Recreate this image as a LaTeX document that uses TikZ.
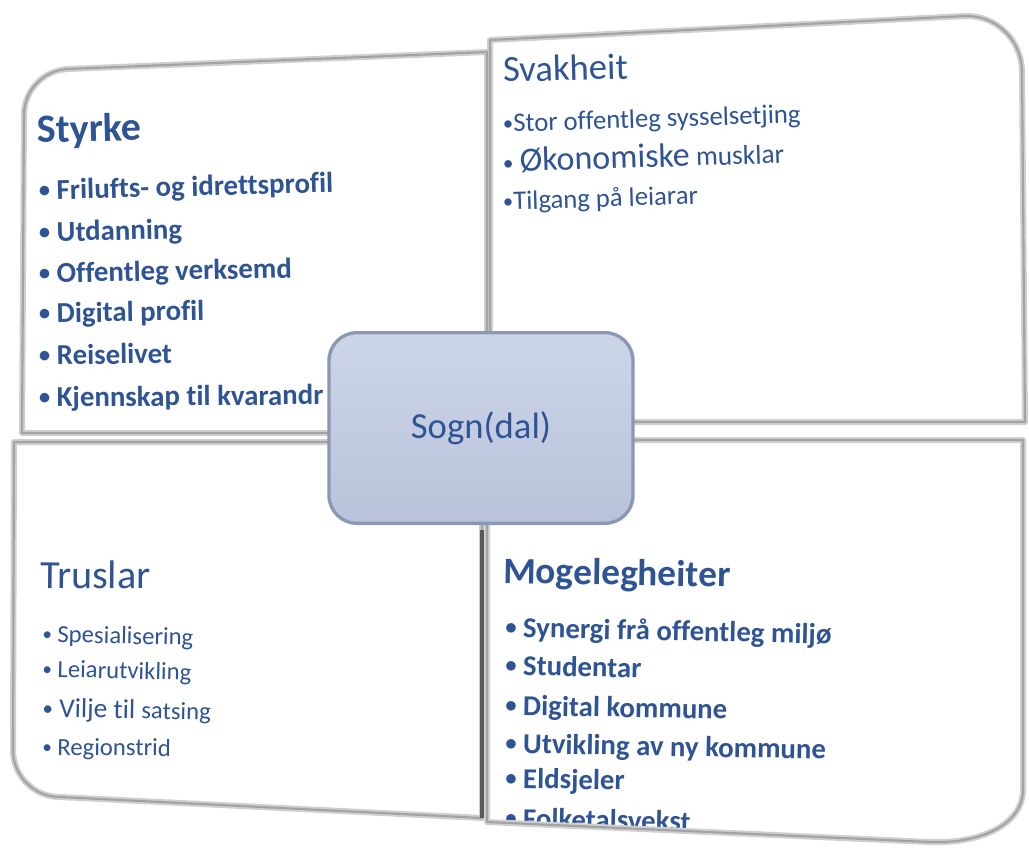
\documentclass[tikz,border=0pt]{standalone}
\usepackage{fontspec}
\setmainfont{Carlito}[Ligatures={NoCommon}]
\usetikzlibrary{shapes,backgrounds}
\definecolor{swotblue}{RGB}{46,84,150}
\definecolor{boxtop}{RGB}{205,213,232}
\definecolor{boxbot}{RGB}{184,194,218}
\definecolor{boxedge}{RGB}{138,152,180}
\newcommand\blt{\raisebox{0.07em}{\scalebox{0.78}{•}}}

% outlines of the four fields
\def\qstyrke{(487,52) -- (68,69) .. controls (44,70) and (24,90) .. (24,115) -- (22,433) -- (487,433) -- cycle}
\def\qsvak{(490,40) -- (965,16) .. controls (996,15) and (1022,40) .. (1022,72) -- (1025,422) -- (490,422) -- cycle}
\def\qtrus{(14,442) -- (482,442) -- (482,818) -- (60,797) .. controls (34,797) and (13,776) .. (13,750) -- cycle}
\def\qmog{(487,440) -- (1023,440) -- (1023,790) .. controls (1023,822) and (985,844) .. (930,842) -- (487,822) -- cycle}

\begin{document}
\begin{tikzpicture}[x=0.75pt,y=-0.75pt]
  \tikzstyle{frame}=[draw=gray!38,line width=4.5pt,line join=round]
  \tikzstyle{frame line}=[draw=gray!72,line width=1.6pt,line join=round]
  \tikzstyle{head}=[anchor=base west,inner sep=0pt,text=swotblue,
                    font=\fontsize{28}{34}\selectfont]
  \tikzstyle{bold head}=[head,font=\bfseries\fontsize{30}{36}\selectfont]
  \tikzstyle{item}=[anchor=base west,inner sep=0pt,text=swotblue,
                    font=\fontsize{18.5}{22}\selectfont]
  \tikzstyle{bold item}=[item,font=\bfseries\fontsize{21.6}{26}\selectfont]
  \tikzstyle{centre}=[rectangle,rounded corners=21pt,draw=boxedge,line width=2.5pt,
                      top color=boxtop,bottom color=boxbot,text=swotblue,
                      minimum width=228pt,minimum height=143pt,
                      font=\fontsize{27.5}{32}\selectfont]
  \useasboundingbox[fill=white] (0,0) rectangle (1029,849);
  \path[fill=white] \qstyrke;
  \path[fill=white] \qsvak;
  \path[fill=white] \qtrus;
  \path[fill=white] \qmog;
  % Styrke
  \begin{scope}
    \node [bold head,rotate=1.5] (s0) at (37,143) {Styrke};
    \node [bold item,rotate=1.5] (s1) at (39,200) {\blt\ Frilufts- og idrettsprofil};
    \node [bold item,rotate=1.3] (s2) at (39,242) {\blt\ Utdanning};
    \node [bold item,rotate=1.2] (s3) at (39,283) {\blt\ Offentleg verksemd};
    \node [bold item,rotate=1.0] (s4) at (39,323) {\blt\ Digital profil};
    \node [bold item,rotate=0.8] (s5) at (39,365) {\blt\ Reiselivet};
    \node [bold item,rotate=0.5] (s6) at (39,407) {\blt\ Kjennskap til kvarandr};
  \end{scope}
  % Svakheit
  \begin{scope}
    \node [head,rotate=1.5,font=\fontsize{27.5}{33}\selectfont] (v0) at (503,82) {Svakheit};
    \node [item,rotate=1.8,font=\fontsize{20}{24}\selectfont] (v1) at (503,132) {\blt Stor offentleg sysselsetjing};
    \node [item,rotate=1.8,font=\fontsize{20.5}{24}\selectfont] (v2) at (503,172)
      {\blt\ {\fontsize{25.5}{30}\selectfont Økonomiske} musklar};
    \node [item,rotate=1.8,font=\fontsize{20}{24}\selectfont] (v3) at (503,210) {\blt Tilgang på leiarar};
  \end{scope}
  % Truslar
  \begin{scope}
    \node [head,rotate=-0.5,font=\fontsize{30}{36}\selectfont] (t0) at (40,588) {Truslar};
    \node [item,rotate=-1.3] (t1) at (42,642) {\blt\ Spesialisering};
    \node [item,rotate=-1.3] (t2) at (42,677) {\blt\ Leiarutvikling};
    \node [item,rotate=-1.0,font=\fontsize{20.5}{24}\selectfont] (t3) at (42,717)
      {\blt\ Vilje til {\fontsize{18.5}{22}\selectfont satsing}};
    \node [item,rotate=-0.5] (t4) at (42,755) {\blt\ Regionstrid};
  \end{scope}
  % Mogelegheiter
  \begin{scope}
    \clip \qmog;
    \node [bold head,rotate=-1,font=\bfseries\fontsize{28}{34}\selectfont] (m0) at (503,583) {Mogelegheiter};
    \node [bold item,rotate=-1.2] (m1) at (505,637) {\blt\ Synergi frå offentleg miljø};
    \node [bold item,rotate=-1.2] (m2) at (505,675) {\blt\ Studentar};
    \node [bold item,rotate=-1.1] (m3) at (505,715) {\blt\ Digital kommune};
    \node [bold item,rotate=-1.1] (m4) at (505,753) {\blt\ Utvikling av ny kommune};
    \node [bold item,rotate=-1.0] (m5) at (505,788) {\blt\ Eldsjeler};
    \node [bold item,rotate=-1.0] (m6) at (505,828) {\blt\ Folketalsvekst};
  \end{scope}
  % frames
  \draw [frame] \qstyrke;
  \draw [frame] \qsvak;
  \draw [frame] \qtrus;
  \draw [frame] \qmog;
  \draw [frame line] \qstyrke;
  \draw [frame line] \qsvak;
  \draw [frame line] \qtrus;
  \draw [frame line] \qmog;
  \draw [line width=3pt,black!65] (482,530) -- (482,818);
  % centre
  \node [centre] (c) at (481,428) {Sogn(dal)};
\end{tikzpicture}
\end{document}
